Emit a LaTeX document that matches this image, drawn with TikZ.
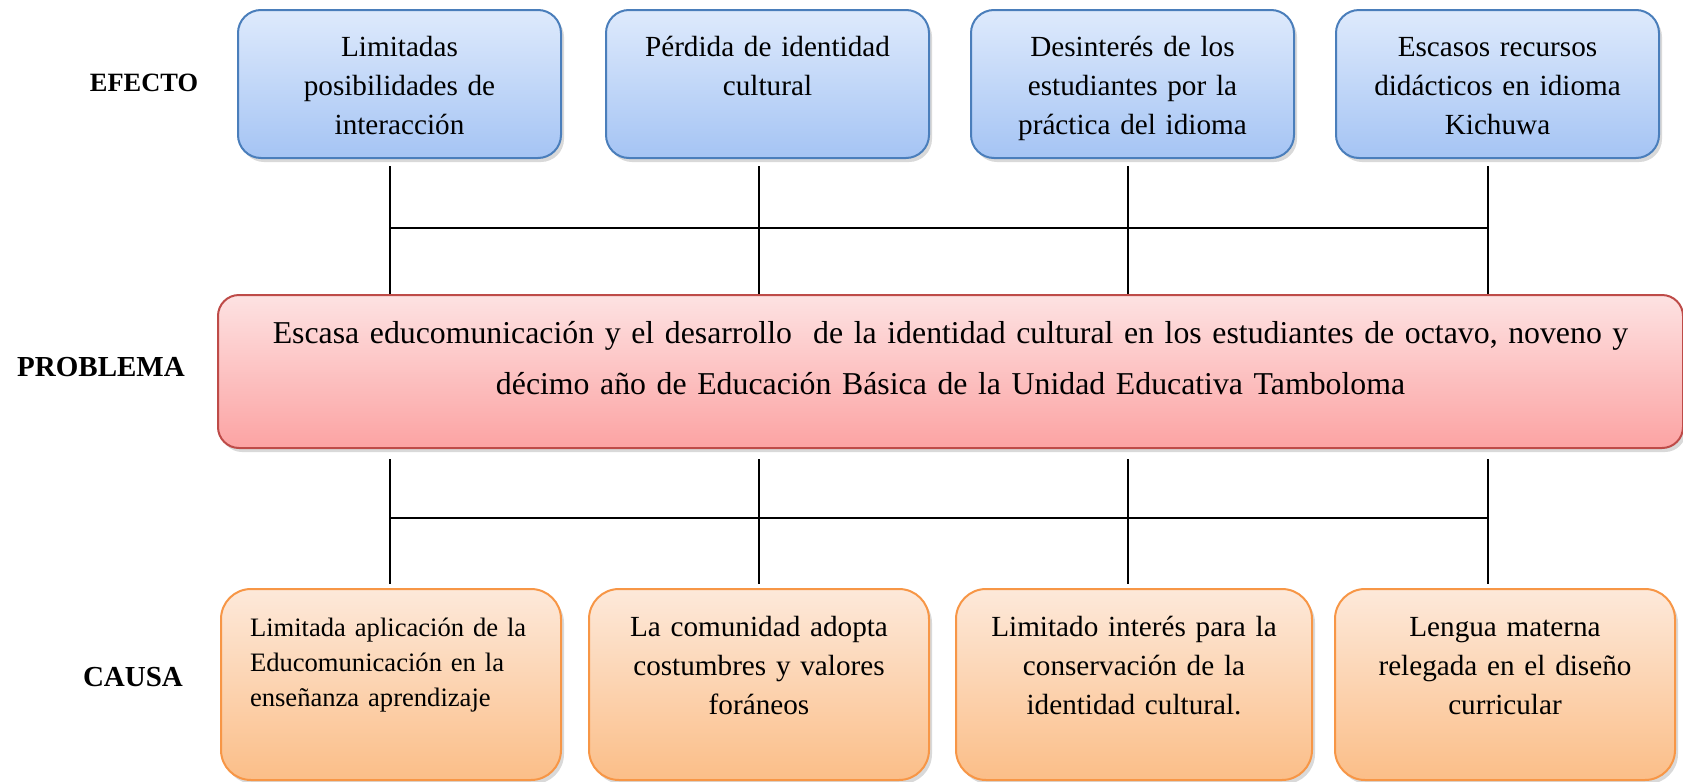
\documentclass[tikz,border=0pt]{standalone}
\usepackage{fontspec}
\setmainfont{Liberation Serif}
\usepackage{tikz}
\usetikzlibrary{positioning}
\usetikzlibrary{shadows}

\definecolor{efftop}{HTML}{DEEAFC}
\definecolor{effbot}{HTML}{A5C4F4}
\definecolor{effline}{HTML}{4A7EBB}
\definecolor{probtop}{HTML}{FDE2E2}
\definecolor{probbot}{HTML}{FCA3A3}
\definecolor{probline}{HTML}{BE4B48}
\definecolor{cautop}{HTML}{FDE9DA}
\definecolor{caubot}{HTML}{FBBE88}
\definecolor{cauline}{HTML}{F79646}

\tikzset{
  boxshadow/.style={drop shadow={opacity=0.3, shadow xshift=1.5pt, shadow yshift=-2pt}},
  effbox/.style={draw=effline, line width=1pt, rounded corners=11.5pt,
    top color=efftop, bottom color=effbot, boxshadow,
    align=center, text width=151.5pt, inner xsep=5pt, inner ysep=0pt,
    text height=23pt, text depth=51pt,
    font=\fontsize{14.6pt}{19.5pt}\selectfont},
  probbox/.style={draw=probline, line width=1pt, rounded corners=10.5pt,
    top color=probtop, bottom color=probbot, boxshadow,
    align=center, text width=722.5pt, inner xsep=5pt, inner ysep=0pt,
    text height=24pt, text depth=52.5pt,
    font=\fontsize{15.9pt}{25.5pt}\selectfont},
  caubox/.style={draw=cauline, line width=1pt, rounded corners=15pt,
    top color=cautop, bottom color=caubot, boxshadow,
    align=center, text width=160pt, inner xsep=5pt, inner ysep=0pt,
    text height=23.5pt, text depth=72pt,
    font=\fontsize{14.6pt}{19.5pt}\selectfont},
  rowlabel/.style={font=\fontsize{14.5pt}{17pt}\selectfont\bfseries},
  link/.style={draw, line width=1pt}
}

\begin{document}
\begin{tikzpicture}[x=0.5pt, y=-0.5pt]
  \useasboundingbox (0,0) rectangle (1683,782);

  % efectos
  \node (ef1) [effbox, anchor=north west] at (237,9) {Limitadas\\posibilidades de\\interacción};
  \node (ef2) [effbox, right=21.5pt of ef1] {Pérdida de identidad\\cultural};
  \node (ef3) [effbox, right=20pt of ef2] {Desinterés de los\\estudiantes por la\\práctica del idioma};
  \node (ef4) [effbox, right=20pt of ef3] {Escasos recursos\\didácticos en idioma\\Kichuwa};

  % problema
  \node (pb) [probbox, anchor=north west] at (217,294)
    {Escasa educomunicación y el desarrollo\ \ de la identidad cultural en los estudiantes de octavo, noveno y\\
     décimo año de Educación Básica de la Unidad Educativa Tamboloma};

  % causas
  \node (ca1) [caubox, anchor=north west, align=left, text width=141pt, inner xsep=14.5pt,
    font=\fontsize{13.3pt}{17.5pt}\selectfont] at (220,588)
    {Limitada aplicación de la\\Educomunicación en la\\enseñanza aprendizaje};
  \node (ca2) [caubox, right=13pt of ca1] {La comunidad adopta\\costumbres y valores\\foráneos};
  \node (ca3) [caubox, text width=168pt, right=12.5pt of ca2] {Limitado interés para la\\conservación de la\\identidad cultural.};
  \node (ca4) [caubox, right=10.5pt of ca3] {Lengua materna\\relegada en el diseño\\curricular};

  \node (lef) [rowlabel, font=\fontsize{13.2pt}{16pt}\selectfont\bfseries] at (144,83) {EFECTO};
  \node (lpb) [rowlabel] at (101,367) {PROBLEMA};
  \node (lca) [rowlabel] at (133,677) {CAUSA};

  \coordinate (u1) at (390,228);
  \coordinate (u2) at (759,228);
  \coordinate (u3) at (1128,228);
  \coordinate (u4) at (1488,228);
  \coordinate (d1) at (390,518);
  \coordinate (d4) at (1488,518);

  \draw[link, shorten <=3.5pt] (ef1.south -| u1) -- (pb.north -| u1);
  \draw[link, shorten <=3.5pt] (ef2.south -| u2) -- (pb.north -| u2);
  \draw[link, shorten <=3.5pt] (ef3.south -| u3) -- (pb.north -| u3);
  \draw[link, shorten <=3.5pt] (ef4.south -| u4) -- (pb.north -| u4);
  \draw[link] (u1) -- (u4);

  \draw[link, shorten <=5pt, shorten >=2pt] (pb.south -| u1) -- (ca1.north -| u1);
  \draw[link, shorten <=5pt, shorten >=2pt] (pb.south -| u2) -- (ca2.north -| u2);
  \draw[link, shorten <=5pt, shorten >=2pt] (pb.south -| u3) -- (ca3.north -| u3);
  \draw[link, shorten <=5pt, shorten >=2pt] (pb.south -| u4) -- (ca4.north -| u4);
  \draw[link] (d1) -- (d4);
\end{tikzpicture}
\end{document}
